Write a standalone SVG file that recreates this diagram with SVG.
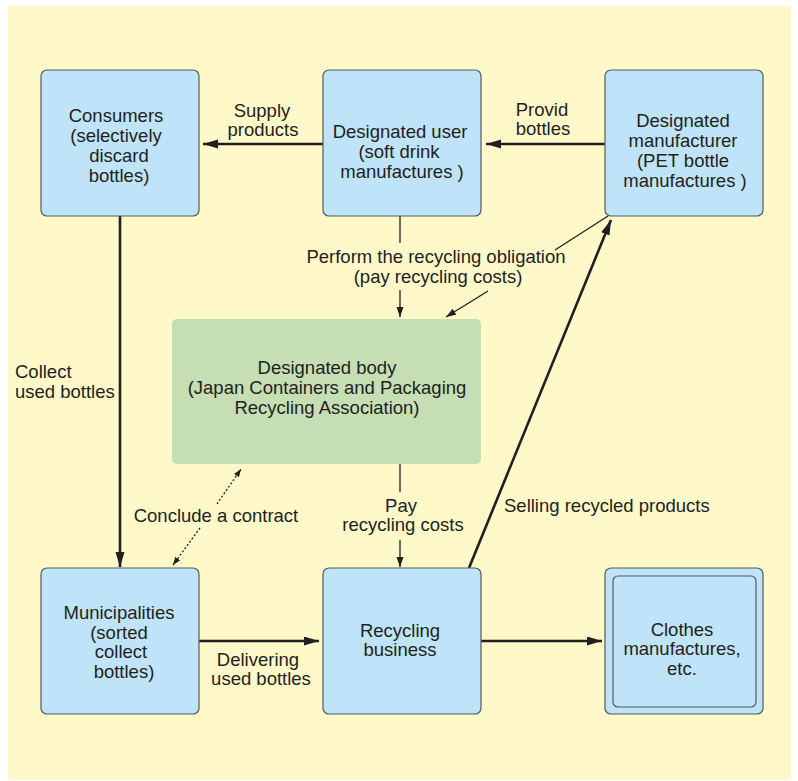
<svg xmlns="http://www.w3.org/2000/svg" width="798" height="781" viewBox="0 0 798 781">
  <defs>
    <marker id="headBold" markerUnits="userSpaceOnUse" markerWidth="16" markerHeight="10" refX="15" refY="4.5" orient="auto">
      <path d="M0,0 L15,4.5 L0,9 z" fill="#231f20"/>
    </marker>
    <marker id="headThin" markerUnits="userSpaceOnUse" markerWidth="11" markerHeight="8" refX="10" refY="3.5" orient="auto">
      <path d="M0,0 L10,3.5 L0,7 z" fill="#231f20"/>
    </marker>
    <marker id="headDot" markerUnits="userSpaceOnUse" markerWidth="10" markerHeight="8" refX="8" refY="3" orient="auto">
      <path d="M0,0 L8,3 L0,6 z" fill="#231f20"/>
    </marker>
  </defs>
  <style>
    .box { fill: #bfe3f8; stroke: #555a5e; stroke-width: 1.2; }
    .body { fill: #c5deb4; }
    text { font-family: "Liberation Sans", Arial, sans-serif; font-size: 18.5px; fill: #231f20; }
    .c { text-anchor: middle; }
    .bold { stroke: #231f20; stroke-width: 2.6; fill: none; }
    .thin { stroke: #231f20; stroke-width: 1.3; fill: none; }
    .dot { stroke: #231f20; stroke-width: 1.3; fill: none; stroke-dasharray: 2 2; }
  </style>

  <!-- backdrop -->
  <rect x="0" y="0" width="798" height="781" fill="#ffffff"/>
  <rect x="8" y="6" width="783" height="774" fill="#fff8c8"/>

  <!-- connectors -->
  <g id="connectors">
    <line class="bold" x1="323" y1="144" x2="203" y2="144" marker-end="url(#headBold)"/>
    <line class="bold" x1="605" y1="144" x2="486" y2="144" marker-end="url(#headBold)"/>
    <line class="bold" x1="120" y1="216" x2="120" y2="567" marker-end="url(#headBold)"/>
    <line class="bold" x1="199" y1="641" x2="319" y2="641" marker-end="url(#headBold)"/>
    <line class="bold" x1="481" y1="641" x2="602" y2="641" marker-end="url(#headBold)"/>
    <line class="bold" x1="469" y1="568" x2="611" y2="220" marker-end="url(#headBold)"/>

    <line class="thin" x1="400" y1="216" x2="400" y2="243"/>
    <line class="thin" x1="400" y1="290" x2="400" y2="317" marker-end="url(#headThin)"/>
    <line class="thin" x1="608" y1="216" x2="555" y2="250"/>
    <line class="thin" x1="488" y1="291" x2="446" y2="317" marker-end="url(#headThin)"/>

    <line class="thin" x1="400" y1="464" x2="400" y2="492"/>
    <line class="thin" x1="400" y1="540" x2="400" y2="567" marker-end="url(#headThin)"/>

    <line class="dot" x1="200" y1="528" x2="173" y2="565" marker-end="url(#headDot)"/>
    <line class="dot" x1="217" y1="504" x2="241" y2="469" marker-end="url(#headDot)"/>
  </g>

  <!-- connector labels -->
  <g id="labels">
    <text class="c" x="262" y="116.5">Supply</text>
    <text class="c" x="263" y="136">products</text>
    <text class="c" x="542" y="115.5">Provid</text>
    <text class="c" x="543" y="135">bottles</text>
    <text class="c" x="436" y="263">Perform the recycling obligation</text>
    <text class="c" x="438" y="282.5">(pay recycling costs)</text>
    <text x="15" y="378">Collect</text>
    <text x="15" y="398">used bottles</text>
    <text class="c" x="216" y="522">Conclude a contract</text>
    <text class="c" x="401" y="511.5">Pay</text>
    <text class="c" x="403" y="531">recycling costs</text>
    <text x="504" y="512">Selling recycled products</text>
    <text class="c" x="258" y="665.5">Delivering</text>
    <text class="c" x="261" y="685">used bottles</text>
  </g>

  <!-- nodes -->
  <g id="consumers">
    <rect class="box" x="41" y="70" width="158" height="146" rx="6"/>
    <text class="c" x="116" y="121.5">Consumers</text>
    <text class="c" x="116" y="141.5">(selectively</text>
    <text class="c" x="119" y="161.5">discard</text>
    <text class="c" x="119" y="181.5">bottles)</text>
  </g>

  <g id="designated-user">
    <rect class="box" x="323" y="70" width="158" height="146" rx="6"/>
    <text class="c" x="400" y="138">Designated user</text>
    <text class="c" x="399" y="158">(soft drink</text>
    <text class="c" x="402" y="178">manufactures )</text>
  </g>

  <g id="designated-manufacturer">
    <rect class="box" x="605" y="70" width="158" height="146" rx="6"/>
    <text class="c" x="683" y="127">Designated</text>
    <text class="c" x="683" y="147">manufacturer</text>
    <text class="c" x="683" y="167">(PET bottle</text>
    <text class="c" x="685" y="187">manufactures )</text>
  </g>

  <g id="designated-body">
    <rect class="body" x="172" y="319" width="309" height="145" rx="5"/>
    <text class="c" x="327" y="374">Designated body</text>
    <text class="c" x="327" y="394">(Japan Containers and Packaging</text>
    <text class="c" x="327" y="414">Recycling Association)</text>
  </g>

  <g id="municipalities">
    <rect class="box" x="41" y="568" width="158" height="146" rx="6"/>
    <text class="c" x="119" y="619">Municipalities</text>
    <text class="c" x="119" y="638.5">(sorted</text>
    <text class="c" x="121" y="658">collect</text>
    <text class="c" x="124" y="678">bottles)</text>
  </g>

  <g id="recycling-business">
    <rect class="box" x="323" y="568" width="158" height="146" rx="6"/>
    <text class="c" x="400" y="637">Recycling</text>
    <text class="c" x="400" y="656">business</text>
  </g>

  <g id="clothes">
    <rect class="box" x="605" y="568" width="158" height="146" rx="6"/>
    <rect class="box" x="613" y="576" width="143" height="131" rx="5"/>
    <text class="c" x="682" y="636">Clothes</text>
    <text class="c" x="682" y="655">manufactures,</text>
    <text class="c" x="682" y="675">etc.</text>
  </g>
</svg>
